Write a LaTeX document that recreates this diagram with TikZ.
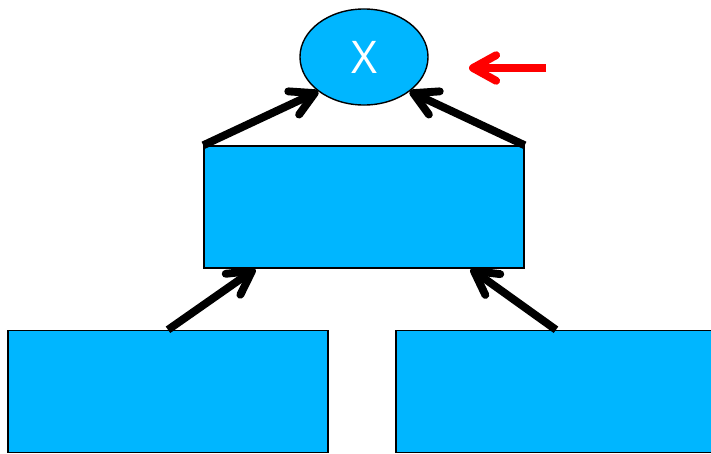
\documentclass[tikz,border=0pt]{standalone}
\usepackage{fontspec}
\newfontfamily\labelfont{Open Sans}
\usetikzlibrary{arrows.meta,shapes.geometric}

\definecolor{boxblue}{RGB}{0,182,255}
\tikzset{
  box/.style={draw=black, line width=1pt, fill=boxblue, minimum width=8cm, minimum height=3.05cm, inner sep=0pt},
  link/.style={line width=5.6pt, -{Straight Barb[round, length=5.8mm, width=6.4mm]}}
}

\begin{document}
\begin{tikzpicture}[x=0.025cm, y=-0.025cm]
\useasboundingbox (0,0) rectangle (711,454);
\node[ellipse, draw=black, line width=1pt, fill=boxblue, minimum width=3.2cm, minimum height=2.4cm, text=white, font=\labelfont\fontsize{32}{32}\selectfont] (x) at (364,57) {X};
\node[box] (mid) at (364,207) {};
\node[box] (left) at (168,391.5) {};
\node[box] (right) at (556,391.5) {};
\coordinate (ptr) at (546,68);
\coordinate (ptrtip) at (469,68);

\draw[link] (mid.north west) -- (x.217);
\draw[link] (mid.north east) -- (x.-37);
\draw[link] (left.north) -- ([xshift=1.3cm]mid.south west);
\draw[link] (right.north) -- ([xshift=-1.35cm]mid.south east);
\draw[link, red] (ptr) -- (ptrtip);
\end{tikzpicture}
\end{document}
